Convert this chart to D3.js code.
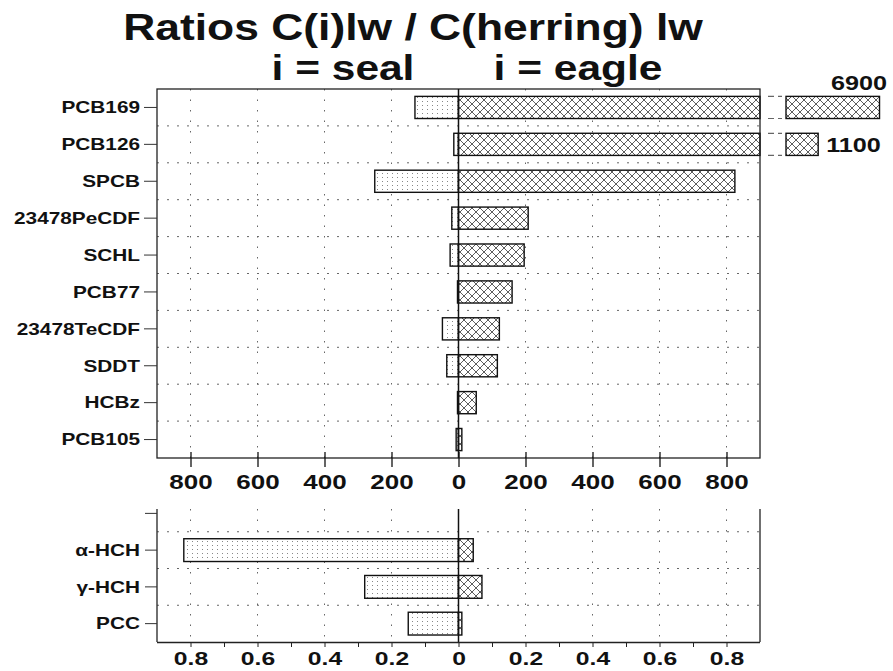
<!DOCTYPE html>
<html>
<head>
<meta charset="utf-8">
<script src="https://cdn.jsdelivr.net/npm/d3@7"></script>
<style>
  body { margin: 0; background: #fff; }
  text { font-family: "Liberation Sans", Arial, sans-serif; font-weight: bold; fill: #111; }
</style>
</head>
<body>
<div id="chart"></div>
<script>
// ========== Data ==========
const categories = ["PCB169", "PCB126", "SPCB", "23478PeCDF", "SCHL", "PCB77", "23478TeCDF", "SDDT", "HCBz", "PCB105"];
const sealValues = [130, 14, 250, 20, 25, 3, 48, 35, 3, 7];
const eagleValues = [6900, 1100, 825, 208, 196, 160, 122, 116, 53, 10];
const topTicks = [-800, -600, -400, -200, 0, 200, 400, 600, 800];

const hchCategories = ["", "α-HCH", "γ-HCH", "PCC"];
const hchSeal = [null, 0.82, 0.28, 0.15];
const hchEagle = [null, 0.044, 0.07, 0.01];
const bottomTicks = [-0.8, -0.7, -0.6, -0.5, -0.4, -0.3, -0.2, -0.1, 0, 0.1, 0.2, 0.3, 0.4, 0.5, 0.6, 0.7, 0.8];
const bottomGrid = [-0.8, -0.6, -0.4, -0.2, 0.2, 0.4, 0.6, 0.8];

// ========== Layout ==========
const width = 893, height = 671;
const left = 157, right = 760;
const top1 = 89, bottom1 = 458;
const top2 = 495, bottom2 = 642;
const SX = 1.3; // wide type in the original

const svg = d3.select("#chart").append("svg")
    .attr("width", width)
    .attr("height", height);

// Patterns
const defs = svg.append("defs");
const dots = defs.append("pattern")
    .attr("id", "dots").attr("patternUnits", "userSpaceOnUse")
    .attr("width", 5).attr("height", 4);
dots.append("rect").attr("width", 5).attr("height", 4).attr("fill", "#fff");
dots.append("rect").attr("x", 2).attr("y", 1).attr("width", 1).attr("height", 1).attr("fill", "#888");

const hatch = defs.append("pattern")
    .attr("id", "hatch").attr("patternUnits", "userSpaceOnUse")
    .attr("width", 8).attr("height", 8);
hatch.append("rect").attr("width", 8).attr("height", 8).attr("fill", "#fff");
hatch.append("path").attr("d", "M0,0L8,8M8,0L0,8M-1,7L1,9M7,-1L9,1M-1,1L1,-1M7,9L9,7")
    .attr("stroke", "#333").attr("stroke-width", 0.8);

// ========== Titles ==========
function wideText(x, y, str, size, sx, anchor) {
    svg.append("g")
        .attr("transform", `translate(${x},${y}) scale(${sx},1)`)
        .append("text")
        .attr("text-anchor", anchor || "middle")
        .attr("font-size", size)
        .text(str);
}
wideText(413, 40, "Ratios C(i)lw / C(herring) lw", 37, 1.2);
wideText(343, 80, "i = seal", 36, 1.18);
wideText(578, 80, "i = eagle", 36, 1.18);

// ========== Top panel ==========
const x = d3.scaleLinear().domain([-900, 900]).range([left, right]);
const y = d3.scaleBand().domain(categories).range([top1, bottom1]);
const barH = y.bandwidth() * 0.6;
const barY = c => y(c) + (y.bandwidth() - barH) / 2;

const g1 = svg.append("g");

// grid
g1.selectAll(".vgrid").data(topTicks.filter(d => d !== 0)).enter().append("line")
    .attr("x1", d => x(d)).attr("x2", d => x(d))
    .attr("y1", top1).attr("y2", bottom1)
    .attr("stroke", "#666").attr("stroke-dasharray", "1.5,9");
g1.selectAll(".hgrid").data(categories.slice(1)).enter().append("line")
    .attr("x1", left).attr("x2", right)
    .attr("y1", d => y(d)).attr("y2", d => y(d))
    .attr("stroke", "#666").attr("stroke-dasharray", "2,8");

// seal bars
g1.selectAll(".seal").data(categories).enter().append("rect")
    .attr("x", (d, i) => x(-sealValues[i]))
    .attr("width", (d, i) => x(0) - x(-sealValues[i]))
    .attr("y", d => barY(d))
    .attr("height", barH)
    .attr("fill", "url(#dots)")
    .attr("stroke", "#111").attr("stroke-width", 1.4);

// eagle bars (clipped at the axis limit)
const maxX = x.domain()[1];
g1.selectAll(".eagle").data(categories).enter().append("rect")
    .attr("x", x(0))
    .attr("width", (d, i) => x(Math.min(eagleValues[i], maxX)) - x(0))
    .attr("y", d => barY(d))
    .attr("height", barH)
    .attr("fill", "url(#hatch)")
    .attr("stroke", "#111").attr("stroke-width", 1.4);

// broken bars beyond the axis
const tail = d3.scaleLog().domain([1000, 7000]).range([815, 880]);
const broken = categories.map((c, i) => ({ c, v: eagleValues[i] })).filter(d => d.v > maxX);
broken.forEach(d => {
    const yb = barY(d.c);
    [yb, yb + barH].forEach(yy => {
        g1.append("line")
            .attr("x1", right + 8).attr("x2", right + 22)
            .attr("y1", yy).attr("y2", yy)
            .attr("stroke", "#666").attr("stroke-width", 1.2)
            .attr("stroke-dasharray", "6,4");
    });
    g1.append("rect")
        .attr("x", 786).attr("width", tail(d.v) - 786)
        .attr("y", yb).attr("height", barH)
        .attr("fill", "url(#hatch)")
        .attr("stroke", "#111").attr("stroke-width", 1.4);
    const labelX = tail(d.v) + 8;
    if (labelX + 60 > width) {
        wideText(887, yb - 6, d3.format("d")(d.v), 21, 1.2, "end");
    } else {
        wideText(labelX, yb + barH / 2 + 7.5, d3.format("d")(d.v), 21, 1.2, "start");
    }
});

// frame and zero line
g1.append("rect")
    .attr("x", left).attr("y", top1)
    .attr("width", right - left).attr("height", bottom1 - top1)
    .attr("fill", "none").attr("stroke", "#222").attr("stroke-width", 1.3);
g1.append("line")
    .attr("x1", x(0)).attr("x2", x(0)).attr("y1", top1).attr("y2", bottom1)
    .attr("stroke", "#111").attr("stroke-width", 1.5);

// axes
const xAxis1 = g1.append("g")
    .attr("transform", `translate(0,${bottom1})`)
    .call(d3.axisBottom(x).tickValues(topTicks).tickFormat(d => Math.abs(d)).tickSizeOuter(0));
xAxis1.select(".domain").remove();
xAxis1.selectAll(".tick line").attr("y1", -6).attr("y2", 9).attr("stroke", "#111").attr("stroke-width", 1.3);
xAxis1.selectAll(".tick text")
    .attr("y", 31).attr("dy", 0)
    .attr("font-size", 20)
    .attr("transform", `scale(${SX},1)`);

const yAxis1 = g1.append("g")
    .attr("transform", `translate(${left},0)`)
    .call(d3.axisLeft(y).tickSize(13).tickSizeOuter(0));
yAxis1.select(".domain").remove();
yAxis1.selectAll(".tick line").attr("stroke", "#333");
yAxis1.selectAll(".tick text")
    .attr("x", -17 / SX).attr("dy", "0.36em")
    .attr("font-size", 16)
    .attr("transform", `scale(${SX},1)`);

// ========== Bottom panel ==========
const x2 = d3.scaleLinear().domain([-0.9, 0.9]).range([left, right]);
const y2 = d3.scaleBand().domain(hchCategories).range([top2, bottom2]);
const barH2 = y2.bandwidth() * 0.62;
const barY2 = c => y2(c) + (y2.bandwidth() - barH2) / 2;
const panelTop2 = 509;

const g2 = svg.append("g");

g2.selectAll(".vgrid").data(bottomGrid).enter().append("line")
    .attr("x1", d => x2(d)).attr("x2", d => x2(d))
    .attr("y1", panelTop2).attr("y2", bottom2)
    .attr("stroke", "#666").attr("stroke-dasharray", "1.5,9");
g2.selectAll(".hgrid").data(hchCategories.slice(1)).enter().append("line")
    .attr("x1", left).attr("x2", right)
    .attr("y1", d => y2(d)).attr("y2", d => y2(d))
    .attr("stroke", "#666").attr("stroke-dasharray", "2,8");

const hchRows = hchCategories.map((c, i) => ({ c, s: hchSeal[i], e: hchEagle[i] })).filter(d => d.s !== null);

g2.selectAll(".seal").data(hchRows).enter().append("rect")
    .attr("x", d => x2(-d.s))
    .attr("width", d => x2(0) - x2(-d.s))
    .attr("y", d => barY2(d.c))
    .attr("height", barH2)
    .attr("fill", "url(#dots)")
    .attr("stroke", "#111").attr("stroke-width", 1.4);
g2.selectAll(".eagle").data(hchRows).enter().append("rect")
    .attr("x", x2(0))
    .attr("width", d => x2(d.e) - x2(0))
    .attr("y", d => barY2(d.c))
    .attr("height", barH2)
    .attr("fill", "url(#hatch)")
    .attr("stroke", "#111").attr("stroke-width", 1.4);

// axis lines
g2.append("line").attr("x1", left).attr("x2", left).attr("y1", panelTop2).attr("y2", bottom2)
    .attr("stroke", "#222").attr("stroke-width", 1.3);
g2.append("line").attr("x1", right).attr("x2", right).attr("y1", panelTop2).attr("y2", bottom2)
    .attr("stroke", "#222").attr("stroke-width", 1.3);
g2.append("line").attr("x1", x2(0)).attr("x2", x2(0)).attr("y1", panelTop2).attr("y2", bottom2)
    .attr("stroke", "#111").attr("stroke-width", 1.5);

const xAxis2 = g2.append("g")
    .attr("transform", `translate(0,${bottom2})`)
    .call(d3.axisBottom(x2).tickValues(bottomTicks)
        .tickFormat(d => Math.round(d * 10) % 2 === 0 ? (d === 0 ? "0" : Math.abs(d).toFixed(1)) : "")
        .tickSize(5).tickSizeOuter(0));
xAxis2.select(".domain").attr("d", `M${left},0.5H${right}`).attr("stroke", "#222").attr("stroke-width", 1.3);
xAxis2.selectAll(".tick line").attr("stroke", "#222");
xAxis2.selectAll(".tick text")
    .attr("y", 23).attr("dy", 0)
    .attr("font-size", 19)
    .attr("transform", `scale(${SX},1)`);

const yAxis2 = g2.append("g")
    .attr("transform", `translate(${left},0)`)
    .call(d3.axisLeft(y2).tickSize(12).tickSizeOuter(0));
yAxis2.select(".domain").remove();
yAxis2.selectAll(".tick line").attr("stroke", "#333");
yAxis2.selectAll(".tick text")
    .attr("x", -17 / SX).attr("dy", "0.36em")
    .attr("font-size", 16)
    .attr("transform", `scale(${SX},1)`);
</script>
</body>
</html>
